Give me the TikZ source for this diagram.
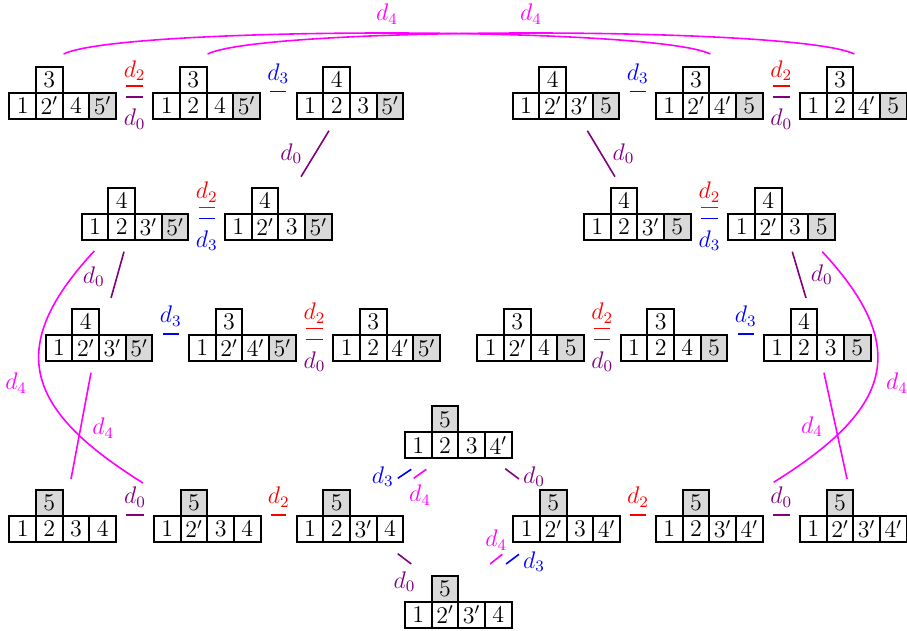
\documentclass[tikz,border=0pt]{standalone}
\usetikzlibrary{calc}
\definecolor{mag}{RGB}{255,0,255}
\definecolor{vio}{RGB}{128,0,128}
\definecolor{rd}{RGB}{255,0,0}
\definecolor{bl}{RGB}{0,0,255}
\tikzset{
  cell/.style={draw, line width=1pt, minimum width=13.33pt, minimum height=13pt, inner sep=0pt},
  gcell/.style={cell, fill=black!15},
  e0/.style={vio, line width=0.8pt},
  e2/.style={rd, line width=0.8pt},
  e3/.style={bl, line width=0.8pt},
  e4/.style={mag, line width=0.8pt},
  hsh/.style={shorten <=4.65pt, shorten >=4.65pt},
}
% tableau with gray last cell
\newcommand{\tblR}[8]{%
  \node[cell] (#1-1) at ({#2+13.33},{#3+13}) {$#5$};
  \node[cell] (#1-2) at ({#2+40},{#3+13}) {$#6$};
  \node[cell] (#1-3) at ({#2+66.67},{#3+13}) {$#7$};
  \node[gcell] (#1-4) at ({#2+93.33},{#3+13}) {$#8$};
  \node[cell] (#1-t) at ({#2+40},{#3-13}) {$#4$};
}
% tableau with gray top cell
\newcommand{\tblT}[8]{%
  \node[cell] (#1-1) at ({#2+13.33},{#3+13}) {$#5$};
  \node[cell] (#1-2) at ({#2+40},{#3+13}) {$#6$};
  \node[cell] (#1-3) at ({#2+66.67},{#3+13}) {$#7$};
  \node[cell] (#1-4) at ({#2+93.33},{#3+13}) {$#8$};
  \node[gcell] (#1-t) at ({#2+40},{#3-13}) {$#4$};
}
\begin{document}
\begin{tikzpicture}[x=0.5pt, y=-0.5pt, font=\fontsize{12}{14}\selectfont]
\useasboundingbox (0,0) rectangle (907,631);
% row 1
\tblR{A1}{9.3}{92.7}{3}{1}{2'}{4}{5'}
\tblR{A2}{153.3}{92.7}{3}{1}{2}{4}{5'}
\tblR{A3}{296.7}{92.7}{4}{1}{2}{3}{5'}
\tblR{A4}{512.7}{92.7}{4}{1}{2'}{3'}{5}
\tblR{A5}{656}{92.7}{3}{1}{2'}{4'}{5}
\tblR{A6}{800}{92.7}{3}{1}{2}{4'}{5}
% row 2
\tblR{B1}{81.7}{214}{4}{1}{2}{3'}{5'}
\tblR{B2}{225}{214}{4}{1}{2'}{3}{5'}
\tblR{B3}{584}{214}{4}{1}{2}{3'}{5}
\tblR{B4}{728.3}{214}{4}{1}{2'}{3}{5}
% row 3
\tblR{C1}{45.7}{335}{4}{1}{2'}{3'}{5'}
\tblR{C2}{189}{335}{3}{1}{2'}{4'}{5'}
\tblR{C3}{333.3}{335}{3}{1}{2}{4'}{5'}
\tblR{C4}{477.3}{335}{3}{1}{2'}{4}{5}
\tblR{C5}{620.7}{335}{3}{1}{2}{4}{5}
\tblR{C6}{764}{335}{4}{1}{2}{3}{5}
% bottom part
\tblT{E}{405}{432.3}{5}{1}{2}{3}{4'}
\tblT{D1}{9.3}{516}{5}{1}{2}{3}{4}
\tblT{D2}{154}{516}{5}{1}{2'}{3}{4}
\tblT{D3}{296.7}{516}{5}{1}{2}{3'}{4}
\tblT{D4}{513.3}{516}{5}{1}{2'}{3}{4'}
\tblT{D5}{656}{516}{5}{1}{2}{3'}{4'}
\tblT{D6}{800}{516}{5}{1}{2'}{3'}{4'}
\tblT{F}{405}{601.7}{5}{1}{2'}{3'}{4}

% ---- horizontal edges, row 1
\draw[e2,hsh] ([yshift=2.75pt]A1-4.north east) -- node[yshift=7.75pt]{$d_2$} ([yshift=2.75pt]A2-1.north west);
\draw[e0,hsh] ([yshift=-2.75pt]A1-4.north east) -- node[yshift=-11pt]{$d_0$} ([yshift=-2.75pt]A2-1.north west);
\draw[e3,hsh] (A2-4.north east) -- node[yshift=9pt]{$d_3$} (A3-1.north west);
\draw[e3,hsh] (A4-4.north east) -- node[yshift=9pt]{$d_3$} (A5-1.north west);
\draw[e2,hsh] ([yshift=2.75pt]A5-4.north east) -- node[yshift=7.75pt]{$d_2$} ([yshift=2.75pt]A6-1.north west);
\draw[e0,hsh] ([yshift=-2.75pt]A5-4.north east) -- node[yshift=-11pt]{$d_0$} ([yshift=-2.75pt]A6-1.north west);
% row 2
\draw[e2,hsh] ([yshift=2.75pt]B1-4.north east) -- node[yshift=7.75pt]{$d_2$} ([yshift=2.75pt]B2-1.north west);
\draw[e3,hsh] ([yshift=-2.75pt]B1-4.north east) -- node[yshift=-11pt]{$d_3$} ([yshift=-2.75pt]B2-1.north west);
\draw[e2,hsh] ([yshift=2.75pt]B3-4.north east) -- node[yshift=7.75pt]{$d_2$} ([yshift=2.75pt]B4-1.north west);
\draw[e3,hsh] ([yshift=-2.75pt]B3-4.north east) -- node[yshift=-11pt]{$d_3$} ([yshift=-2.75pt]B4-1.north west);
% row 3
\draw[e3,hsh] (C1-4.north east) -- node[yshift=9pt]{$d_3$} (C2-1.north west);
\draw[e2,hsh] ([yshift=2.75pt]C2-4.north east) -- node[yshift=7.75pt]{$d_2$} ([yshift=2.75pt]C3-1.north west);
\draw[e0,hsh] ([yshift=-2.75pt]C2-4.north east) -- node[yshift=-11pt]{$d_0$} ([yshift=-2.75pt]C3-1.north west);
\draw[e2,hsh] ([yshift=2.75pt]C4-4.north east) -- node[yshift=7.75pt]{$d_2$} ([yshift=2.75pt]C5-1.north west);
\draw[e0,hsh] ([yshift=-2.75pt]C4-4.north east) -- node[yshift=-11pt]{$d_0$} ([yshift=-2.75pt]C5-1.north west);
\draw[e3,hsh] (C5-4.north east) -- node[yshift=9pt]{$d_3$} (C6-1.north west);
% row 4
\draw[e0,hsh] (D1-4.north east) -- node[yshift=9pt]{$d_0$} (D2-1.north west);
\draw[e2,hsh] (D2-4.north east) -- node[yshift=9pt]{$d_2$} (D3-1.north west);
\draw[e2,hsh] (D4-4.north east) -- node[yshift=9pt]{$d_2$} (D5-1.north west);
\draw[e0,hsh] (D5-4.north east) -- node[yshift=9pt]{$d_0$} (D6-1.north west);

% ---- diagonal edges
\draw[e0] ([shift={(-7.7,11)}]A3-2.south) -- node[xshift=-11.9pt]{$d_0$} ([shift={(21.7,-10.3)}]B2-t.north east);
\draw[e0] ([shift={(8,11)}]A4-3.south) -- node[xshift=11.2pt]{$d_0$} ([shift={(5.3,-10.3)}]B3-t.north west);
\draw[e0] ([shift={(2.3,10.7)}]B1-2.south) -- node[xshift=-11.9pt,yshift=-0.9pt]{$d_0$} ([shift={(11,-10)}]C1-t.north east);
\draw[e0] ([shift={(-2.7,10.7)}]B4-3.south) -- node[xshift=11.3pt]{$d_0$} ([shift={(2,-10)}]C6-t.north);
\draw[e3] ([shift={(-6.6,-36.7)}]D3-4.north east) -- node[xshift=-10.9pt,yshift=-1.5pt]{$d_3$} ([shift={(7.3,10)}]E-1.south west);
\draw[e4] ([shift={(9.4,-36.7)}]D3-4.north east) -- node[yshift=-10.6pt]{$d_4$} ([shift={(22.3,10)}]E-1.south west);
\draw[e0] ([shift={(-7.4,9.4)}]E-4.south east) -- node[xshift=10.9pt,yshift=-1.4pt]{$d_0$} ([shift={(-20,-10)}]D4-t.north west);
\draw[e0] ([shift={(-6.6,10.7)}]D3-4.south east) -- node[yshift=-11.4pt]{$d_0$} ([shift={(-19.4,-10.7)}]F-t.north west);
\draw[e4] ([shift={(-10,11.3)}]D4-1.south west) -- node[yshift=9.6pt]{$d_4$} ([shift={(30.7,-10.7)}]F-t.north east);
\draw[e3] ([shift={(6.7,11.3)}]D4-1.south west) -- node[xshift=10.75pt,yshift=-1.25pt]{$d_3$} ([shift={(46.7,-10.7)}]F-t.north east);

% ---- long d4 edges
\draw[e4] ([shift={(5.3,10.7)}]C1-2.south) -- node[xshift=11.1pt,yshift=-1.2pt]{$d_4$} ([shift={(7.4,-10)}]D1-t.north east);
\draw[e4] ([shift={(-6.7,10.7)}]C6-3.south) -- node[xshift=-11.7pt,yshift=-0.4pt]{$d_4$} ([shift={(-7.3,-10)}]D6-t.north east);
\draw[e4] ([shift={(-0.7,10)}]B1-1.south) .. controls +(-92,98.6) and +(-114.8,-71.6) .. ([shift={(-10,-32)}]D2-1.north west) node[midway,xshift=-12.5pt,yshift=-3.1pt]{$d_4$};
\draw[e4] ([shift={(0.6,10.7)}]B4-4.south) .. controls +(91.8,98.6) and +(114.8,-71.6) .. ([shift={(10,-32.7)}]D5-4.north east) node[midway,xshift=10.8pt,yshift=-3.1pt]{$d_4$};

% ---- top arcs
\draw[e4] ([yshift=5.85pt]A1-t.north east) .. controls +(57,-28) and +(-57,-28) .. ([yshift=5.85pt]A5-t.north east) node[midway,yshift=9.5pt]{$d_4$};
\draw[e4] ([yshift=5.85pt]A2-t.north east) .. controls +(57,-28) and +(-57,-28) .. ([yshift=5.85pt]A6-t.north east) node[midway,yshift=9.5pt]{$d_4$};
\end{tikzpicture}
\end{document}
